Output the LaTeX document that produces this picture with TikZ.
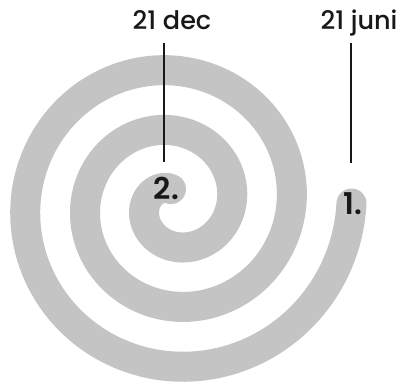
\documentclass[tikz,border=0pt]{standalone}
\usepackage{fontspec}
\setmainfont{Poppins}
\newfontfamily\medfont{Poppins Medium}
\newfontfamily\semifont{Poppins SemiBold}
\usepackage{xcolor}
\usepackage{tikz}
\usetikzlibrary{calc, positioning}

\definecolor{spiralgray}{RGB}{196,196,196}
\definecolor{inkblack}{RGB}{24,24,24}

\begin{document}
\begin{tikzpicture}[x=1pt, y=1pt,
    spiral/.style={spiralgray, line width=30pt, line cap=round, line join=round},
    toplabel/.style={inner sep=0pt, text=inkblack, font=\fontsize{25.5}{30}\selectfont\medfont},
    numlabel/.style={inner sep=0pt, text=inkblack, font=\fontsize{30}{34}\selectfont\semifont},
    leader/.style={inkblack, line width=1.4pt}]
  \useasboundingbox[fill=white] (0,0) rectangle (405,381);
  \def\cx{173.5}
  \def\cy{177.5}
  % the spiral, one turn = 60pt
  \draw[spiral] plot[domain=100:1080, samples=400, variable=\t]
    ({\cx+(\t/6-2)*cos(\t)}, {\cy+(\t/6-2)*sin(\t)});

  \node[toplabel, anchor=base] (dec) at (172,351) {21 dec};
  \node[toplabel, anchor=base] (juni) at (359,351) {21 juni};
  \node[numlabel, anchor=base] (two) at (166.5,181) {2.};
  \node[numlabel, anchor=base] (one) at (353,166) {1.};

  \draw[leader] ([shift={(-8pt,-13pt)}]dec.base) -- ([shift={(-2.5pt,15pt)}]two.north);
  \draw[leader] ([shift={(-8pt,-13pt)}]juni.base) -- ([shift={(-2pt,30pt)}]one.north);
\end{tikzpicture}
\end{document}
